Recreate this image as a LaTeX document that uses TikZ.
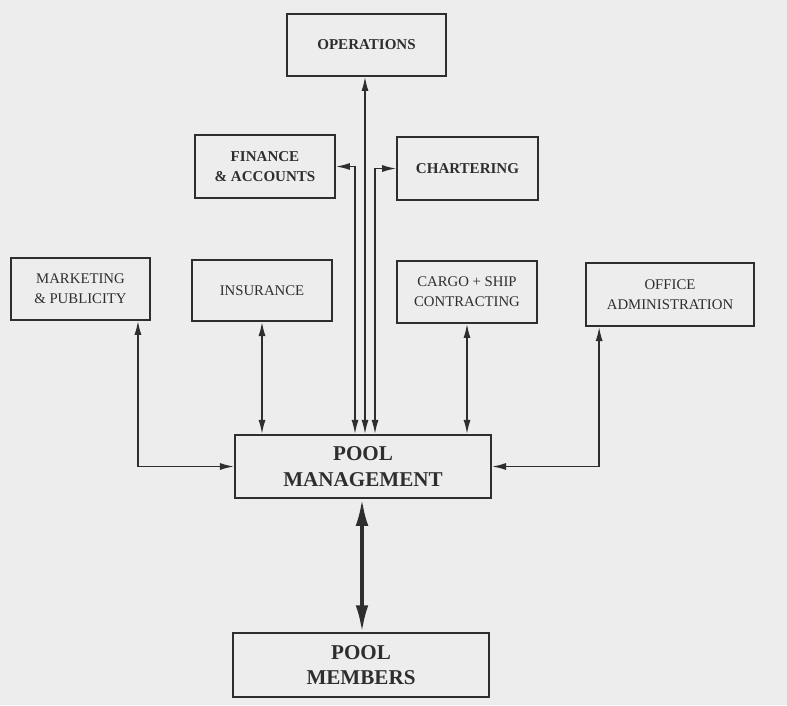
\documentclass[tikz,border=0pt]{standalone}
\usepackage{fontspec}
\setmainfont{Liberation Serif}
\usepackage{tikz}
\usetikzlibrary{arrows.meta,positioning,calc}

\definecolor{ink}{HTML}{2E2E2E}
\definecolor{paper}{HTML}{EDEDED}

\begin{document}
\begin{tikzpicture}[x=0.025cm,y=-0.025cm,
    unit/.style={rectangle, draw = ink, text = ink, line width = 1.2pt,
      inner sep = 0pt, align = center, font = \fontsize{10.5}{14}\selectfont},
    headunit/.style={unit, font = \fontsize{10.7}{14}\selectfont\bfseries},
    poolunit/.style={unit, line width = 1.3pt, font = \fontsize{15}{18}\selectfont\bfseries},
    link/.style={draw = ink, line width = 1.1pt, {Latex[length=10pt,width=5pt]}-{Latex[length=10pt,width=5pt]}},
    biglink/.style={draw = ink, line width = 2.4pt, {Latex[length=19pt,width=9pt]}-{Latex[length=19pt,width=9pt]}}]
  \fill[paper] (0,0) rectangle (787,705);
  \useasboundingbox (0,0) rectangle (787,705);

  \node[headunit, minimum width = 3.98cm, minimum height = 1.55cm] (ops) at (366.5,45) {OPERATIONS};
  \node[headunit, minimum width = 3.5cm, minimum height = 1.58cm] (fin) at (265,166.5) {FINANCE\\ \& ACCOUNTS};
  \node[headunit, minimum width = 3.52cm, minimum height = 1.58cm] (cht) at (467.5,168.5) {CHARTERING};

  \node[unit, minimum width = 3.48cm, minimum height = 1.55cm] (mkt) at (80.5,289) {MARKETING\\ \& PUBLICITY};
  \node[unit, minimum width = 3.5cm, minimum height = 1.53cm] (ins) at (262,290.5) {INSURANCE};
  \node[unit, minimum width = 3.5cm, minimum height = 1.55cm] (cgo) at (467,292) {CARGO + SHIP\\ CONTRACTING};
  \node[unit, minimum width = 4.2cm, minimum height = 1.58cm] (off) at (670,294.5) {OFFICE\\ ADMINISTRATION};

  \node[poolunit, minimum width = 6.4cm, minimum height = 1.58cm] (pm) at (363,466.5) {POOL\\ MANAGEMENT};
  \node[poolunit, minimum width = 6.4cm, minimum height = 1.6cm] (mem) at (361,665) {POOL\\ MEMBERS};

  \draw[link] ($(mkt.south east)+(-13,0)$) |- (pm.west);
  \draw[link] (ins.south) -- (ins.south |- pm.north);
  \draw[link] ($(pm.north)+(-8,0)$) |- (fin.east);
  \draw[link] ($(pm.north)+(2,0)$) -- ($(pm.north |- ops.south)+(2,0)$);
  \draw[link] ($(pm.north)+(12,0)$) |- (cht.west);
  \draw[link] (cgo.south) -- (cgo.south |- pm.north);
  \draw[link] ($(off.south west)+(14,0)$) |- (pm.east);

  \draw[biglink] ($(pm.south)+(-1,0)$) -- ($(pm.south |- mem.north)+(-1,0)$);
\end{tikzpicture}
\end{document}
